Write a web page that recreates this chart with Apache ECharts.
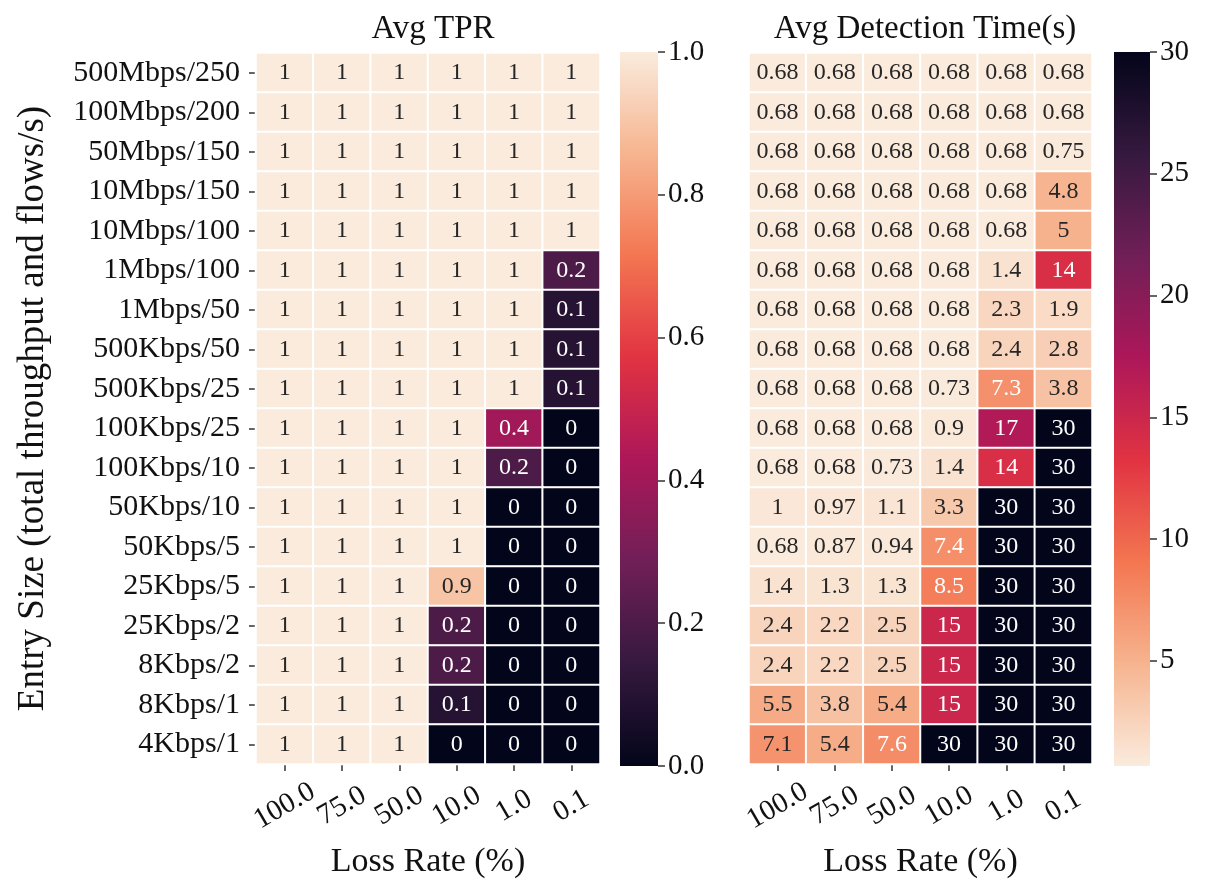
<!DOCTYPE html>
<html>
<head>
<meta charset="utf-8">
<script src="https://cdn.jsdelivr.net/npm/echarts@6/dist/echarts.min.js"></script>
<style>html,body{margin:0;padding:0;background:#fff;}#c{width:1205px;height:885px;}</style>
</head>
<body>
<div id="c"></div>
<script>
const lossRates = ['100.0', '75.0', '50.0', '10.0', '1.0', '0.1'];
const entrySizes = ['500Mbps/250', '100Mbps/200', '50Mbps/150', '10Mbps/150', '10Mbps/100',
  '1Mbps/100', '1Mbps/50', '500Kbps/50', '500Kbps/25', '100Kbps/25', '100Kbps/10',
  '50Kbps/10', '50Kbps/5', '25Kbps/5', '25Kbps/2', '8Kbps/2', '8Kbps/1', '4Kbps/1'];
const tprValues = [
  [1, 1, 1, 1, 1, 1],
  [1, 1, 1, 1, 1, 1],
  [1, 1, 1, 1, 1, 1],
  [1, 1, 1, 1, 1, 1],
  [1, 1, 1, 1, 1, 1],
  [1, 1, 1, 1, 1, 0.2],
  [1, 1, 1, 1, 1, 0.1],
  [1, 1, 1, 1, 1, 0.1],
  [1, 1, 1, 1, 1, 0.1],
  [1, 1, 1, 1, 0.4, 0],
  [1, 1, 1, 1, 0.2, 0],
  [1, 1, 1, 1, 0, 0],
  [1, 1, 1, 1, 0, 0],
  [1, 1, 1, 0.9, 0, 0],
  [1, 1, 1, 0.2, 0, 0],
  [1, 1, 1, 0.2, 0, 0],
  [1, 1, 1, 0.1, 0, 0],
  [1, 1, 1, 0, 0, 0]
];
const detValues = [
  [0.68, 0.68, 0.68, 0.68, 0.68, 0.68],
  [0.68, 0.68, 0.68, 0.68, 0.68, 0.68],
  [0.68, 0.68, 0.68, 0.68, 0.68, 0.75],
  [0.68, 0.68, 0.68, 0.68, 0.68, 4.8],
  [0.68, 0.68, 0.68, 0.68, 0.68, 5],
  [0.68, 0.68, 0.68, 0.68, 1.4, 14],
  [0.68, 0.68, 0.68, 0.68, 2.3, 1.9],
  [0.68, 0.68, 0.68, 0.68, 2.4, 2.8],
  [0.68, 0.68, 0.68, 0.73, 7.3, 3.8],
  [0.68, 0.68, 0.68, 0.9, 17, 30],
  [0.68, 0.68, 0.73, 1.4, 14, 30],
  [1, 0.97, 1.1, 3.3, 30, 30],
  [0.68, 0.87, 0.94, 7.4, 30, 30],
  [1.4, 1.3, 1.3, 8.5, 30, 30],
  [2.4, 2.2, 2.5, 15, 30, 30],
  [2.4, 2.2, 2.5, 15, 30, 30],
  [5.5, 3.8, 5.4, 15, 30, 30],
  [7.1, 5.4, 7.6, 30, 30, 30]
];
const tprTicks = [0, 0.2, 0.4, 0.6, 0.8, 1.0];
const detTicks = [5, 10, 15, 20, 25, 30];
const tprRange = [0, 1];
const detRange = [0.68, 30];

// rocket colormap (dark -> light)
const rocket = ['#03051a', '#35193e', '#701f57', '#ad1759', '#e13342', '#f37651', '#f6b48f', '#faebdd'];
const rocketR = rocket.slice().reverse();

function hexToRgb(h) { return [1, 3, 5].map(i => parseInt(h.substr(i, 2), 16)); }
function sample(stops, t) {
  t = Math.max(0, Math.min(1, t));
  const n = stops.length - 1;
  const p = t * n, i = Math.min(Math.floor(p), n - 1), f = p - i;
  const a = hexToRgb(stops[i]), b = hexToRgb(stops[i + 1]);
  return a.map((v, k) => v + (b[k] - v) * f);
}
function lum(rgb) {
  const c = rgb.map(v => { v /= 255; return v <= 0.03928 ? v / 12.92 : Math.pow((v + 0.055) / 1.055, 2.4); });
  return 0.2126 * c[0] + 0.7152 * c[1] + 0.0722 * c[2];
}
function buildData(values, stops, range) {
  const out = [];
  values.forEach((row, r) => row.forEach((v, c) => {
    const rgb = sample(stops, (v - range[0]) / (range[1] - range[0]));
    out.push({ value: [c, r, v], label: { color: lum(rgb) > 0.408 ? '#262626' : '#ffffff' } });
  }));
  return out;
}

const FONT = 'Liberation Serif';
const TXT = '#111';
const G1 = { left: 256, top: 53, width: 344, height: 711 };
const G2 = { left: 749, top: 53, width: 343, height: 711 };
const CB1 = { left: 620, top: 52, width: 38, height: 714 };
const CB2 = { left: 1114, top: 52, width: 36, height: 714 };

function catX(idx) {
  return {
    type: 'category', gridIndex: idx, data: lossRates,
    axisLine: { show: false },
    axisTick: { show: true, alignWithLabel: true, length: 7, lineStyle: { color: '#333', width: 1.5 } },
    axisLabel: { interval: 0, rotate: 30, align: 'center', verticalAlign: 'middle', margin: 42,
      fontFamily: FONT, fontSize: 29, color: TXT },
    name: 'Loss Rate (%)', nameLocation: 'middle', nameGap: 81,
    nameTextStyle: { fontFamily: FONT, fontSize: 34, color: TXT },
    splitLine: { show: false }
  };
}
function catY(idx, showLabels) {
  const ax = {
    type: 'category', gridIndex: idx, data: entrySizes, inverse: true,
    axisLine: { show: false },
    axisTick: { show: showLabels, alignWithLabel: true, length: 7, lineStyle: { color: '#333', width: 1.5 } },
    axisLabel: { show: showLabels, interval: 0, margin: 16, fontFamily: FONT, fontSize: 30, color: TXT },
    splitLine: { show: false }
  };
  if (showLabels) {
    ax.name = 'Entry Size (total throughput and flows/s)';
    ax.nameLocation = 'middle';
    ax.nameRotate = 90;
    ax.nameGap = 204;
    ax.nameTextStyle = { fontFamily: FONT, fontSize: 37, color: TXT };
  }
  return ax;
}
function gradStops(stops) {
  return stops.map((c, i) => ({ offset: i / (stops.length - 1), color: c }));
}

const option = {
  backgroundColor: '#fff',
  animation: false,
  title: [
    { text: 'Avg TPR', left: 428, top: 8, textAlign: 'center',
      textStyle: { fontFamily: FONT, fontSize: 33, fontWeight: 'normal', color: TXT } },
    { text: 'Avg Detection Time(s)', left: 920, top: 8, textAlign: 'center',
      textStyle: { fontFamily: FONT, fontSize: 33, fontWeight: 'normal', color: TXT } }
  ],
  grid: [G1, G2, CB1, CB2],
  xAxis: [
    catX(0), catX(1),
    { type: 'category', gridIndex: 2, data: ['cb'], show: false },
    { type: 'category', gridIndex: 3, data: ['cb'], show: false }
  ],
  yAxis: [
    catY(0, true), catY(1, false),
    { type: 'value', gridIndex: 2, min: tprRange[0], max: tprRange[1], interval: 0.2, position: 'right',
      axisLine: { show: false }, splitLine: { show: false },
      axisTick: { show: true, length: 7, lineStyle: { color: '#333', width: 1.5 } },
      axisLabel: { margin: 10, fontFamily: FONT, fontSize: 29, color: TXT, formatter: v => v.toFixed(1) } },
    { type: 'value', gridIndex: 3, min: detRange[0], max: detRange[1], position: 'right',
      axisLine: { show: false }, splitLine: { show: false },
      axisTick: { show: true, length: 7, customValues: detTicks, lineStyle: { color: '#333', width: 1.5 } },
      axisLabel: { margin: 10, fontFamily: FONT, fontSize: 29, color: TXT, customValues: detTicks } }
  ],
  visualMap: [
    { type: 'continuous', show: false, seriesIndex: 0, min: tprRange[0], max: tprRange[1], inRange: { color: rocket } },
    { type: 'continuous', show: false, seriesIndex: 1, min: detRange[0], max: detRange[1], inRange: { color: rocketR } }
  ],
  series: [
    { type: 'heatmap', xAxisIndex: 0, yAxisIndex: 0, data: buildData(tprValues, rocket, tprRange),
      itemStyle: { borderColor: '#fff', borderWidth: 2 },
      label: { show: true, fontFamily: FONT, fontSize: 24, formatter: p => String(p.value[2]) } },
    { type: 'heatmap', xAxisIndex: 1, yAxisIndex: 1, data: buildData(detValues, rocketR, detRange),
      itemStyle: { borderColor: '#fff', borderWidth: 2 },
      label: { show: true, fontFamily: FONT, fontSize: 24, formatter: p => String(p.value[2]) } },
    { type: 'bar', xAxisIndex: 2, yAxisIndex: 2, data: [tprRange[1]], barWidth: '100%', silent: true,
      itemStyle: { color: new echarts.graphic.LinearGradient(0, CB1.top, 0, CB1.top + CB1.height,
        gradStops(rocketR), true) } },
    { type: 'bar', xAxisIndex: 3, yAxisIndex: 3, data: [detRange[1]], barWidth: '100%', silent: true, clip: true,
      itemStyle: { color: new echarts.graphic.LinearGradient(0, CB2.top, 0, CB2.top + CB2.height,
        gradStops(rocket), true) } }
  ]
};
const chart = echarts.init(document.getElementById('c'), null, { renderer: 'canvas' });
chart.setOption(option);
</script>
</body>
</html>
